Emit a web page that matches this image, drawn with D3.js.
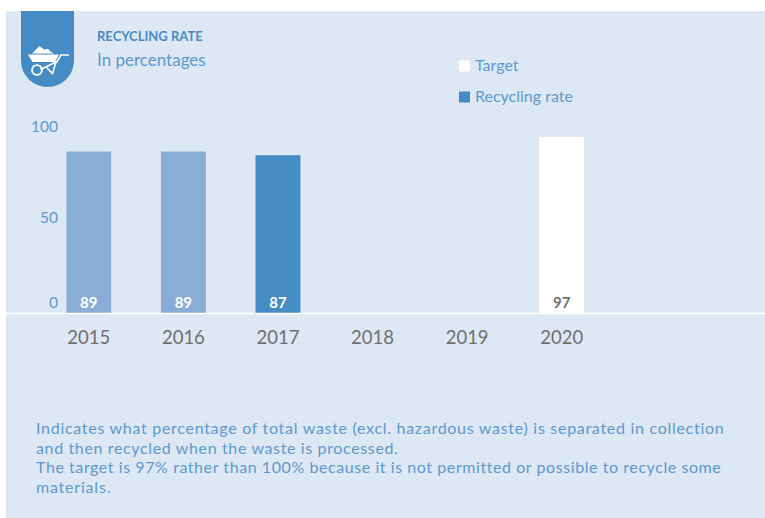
<!DOCTYPE html>
<html>
<head>
<meta charset="utf-8">
<script src="https://cdn.jsdelivr.net/npm/d3@7"></script>
<style>
html,body{margin:0;padding:0;background:#fff;}
svg{display:block;}
text{font-family:Lato,"Noto Sans",sans-serif;}
</style>
</head>
<body>
<div id="chart"></div>
<script>
const years = ["2015","2016","2017","2018","2019","2020"];
const recycled = [89,89,87,null,null,null];
const target = [null,null,null,null,null,97];
const barFills = ["#8aadd8","#8aadd8","#458cc4"];
const yTicks = [0,50,100];
const yTickNudge = [-11,-5,-6];
const legendLabels = ["Target","Recycling rate"];
const noteLines = [
  "Indicates what percentage of total waste (excl. hazardous waste) is separated in collection",
  "and then recycled when the waste is processed.",
  "The target is 97% rather than 100% because it is not permitted or possible to recycle some",
  "materials."
];
const noteTracking = [0.71,0.64,0.57,0.8];

const W = 765, H = 518;
const BLUE = "#458cc4", TEXT = "#5b9ad0", PANEL = "#dee7f4", GREY = "#6f6f6f";
const FONT = 'Lato,"Noto Sans",sans-serif';

const svg = d3.select("#chart").append("svg").attr("width", W).attr("height", H);
svg.append("rect").attr("x",6).attr("y",11).attr("width",W-6).attr("height",H-11).attr("fill",PANEL);

// Badge hanging from the panel's top edge
svg.append("path").attr("fill",BLUE)
  .attr("d","M21 11H74V60.5A26.5 26.5 0 0 1 21 60.5Z");

// Wheelbarrow glyph
const icon = svg.append("g").attr("fill","none").attr("stroke","#fff");
icon.append("path").attr("fill","#fff").attr("stroke","none")
  .attr("d","M32 53.5L39.5 46L44 49.5L48 49L50.5 51.5L54 53.5Z");
icon.append("path").attr("fill","#fff").attr("stroke","none")
  .attr("d","M28 54.5H59L55 62H32.5Z");
icon.append("path").attr("stroke-width",1.6)
  .attr("d","M56.5 62.5L61 55H69M40.5 69.5L56 62L52.5 73.5L46.5 67.5");
icon.append("circle").attr("cx",37).attr("cy",70).attr("r",4.9).attr("stroke-width",1.9);

svg.append("text").attr("x",97).attr("y",41).attr("font-size",13).attr("font-weight",700)
  .attr("fill",BLUE).text("RECYCLING RATE");
svg.append("text").attr("x",97).attr("y",66).attr("font-size",17).attr("fill",TEXT).text("In percentages");

// Scales
const x = d3.scaleBand().domain(years).range([41.5,609]).paddingInner(0.525).paddingOuter(0.2625);
const y = d3.scaleLinear().domain([0,100]).range([313,131.6]);

// Bars for measured years and the target year
const rows = years.map((yr,i)=>({yr,rate:recycled[i],goal:target[i],fill:barFills[i]}));
svg.append("g").selectAll("rect").data(rows.filter(d=>d.rate!==null)).join("rect")
  .attr("x",d=>x(d.yr)).attr("width",x.bandwidth())
  .attr("y",d=>y(d.rate)).attr("height",d=>y(0)-y(d.rate)).attr("fill",d=>d.fill);
svg.append("g").selectAll("rect").data(rows.filter(d=>d.goal!==null)).join("rect")
  .attr("x",d=>x(d.yr)).attr("width",x.bandwidth())
  .attr("y",d=>y(d.goal)).attr("height",d=>y(0)-y(d.goal)).attr("fill","#fff");

// Values inside the bar feet
const valueRows = rows.filter(d=>d.rate!==null||d.goal!==null);
svg.append("g").selectAll("text").data(valueRows).join("text")
  .attr("x",d=>x(d.yr)+x.bandwidth()/2).attr("y",308).attr("text-anchor","middle")
  .attr("font-size",15).attr("font-weight",700)
  .attr("fill",d=>d.goal!==null?GREY:"#fff")
  .text(d=>d.goal!==null?d.goal:d.rate);

// Baseline and x axis
svg.append("line").attr("x1",6).attr("x2",W).attr("y1",313.5).attr("y2",313.5)
  .attr("stroke","#fff").attr("stroke-width",1.4);

const xAxis = svg.append("g").attr("transform","translate(0,313)")
  .call(d3.axisBottom(x).tickSize(0).tickPadding(18));
xAxis.select(".domain").remove();
xAxis.selectAll("text").attr("font-size",18.5).attr("fill",GREY)
  .style("font-family",FONT).attr("dy","0.71em");

const yAxis = svg.append("g").attr("transform","translate(58,0)")
  .call(d3.axisLeft(y).tickValues(yTicks).tickSize(0).tickPadding(0));
yAxis.select(".domain").remove();
yAxis.selectAll("text").attr("font-size",15.5).attr("fill",TEXT)
  .style("font-family",FONT)
  .attr("y",(d,i)=>yTickNudge[i]).attr("dy","0.36em");

// Legend
const legend = svg.append("g");
const legendFill = ["#fff",BLUE], legendY = [66,97];
legendLabels.forEach((t,i)=>{
  legend.append("rect").attr("x",459).attr("y",legendY[i]-5.5).attr("width",11).attr("height",11).attr("fill",legendFill[i]);
  legend.append("text").attr("x",475).attr("y",legendY[i]+5).attr("font-size",16).attr("fill",TEXT).text(t);
});

// Explanatory note
svg.append("g").selectAll("text").data(noteLines).join("text")
  .attr("x",36).attr("y",(d,i)=>434+i*19.6)
  .attr("font-size",16).attr("letter-spacing",(d,i)=>noteTracking[i]).attr("fill",TEXT).text(d=>d);
</script>
</body>
</html>
